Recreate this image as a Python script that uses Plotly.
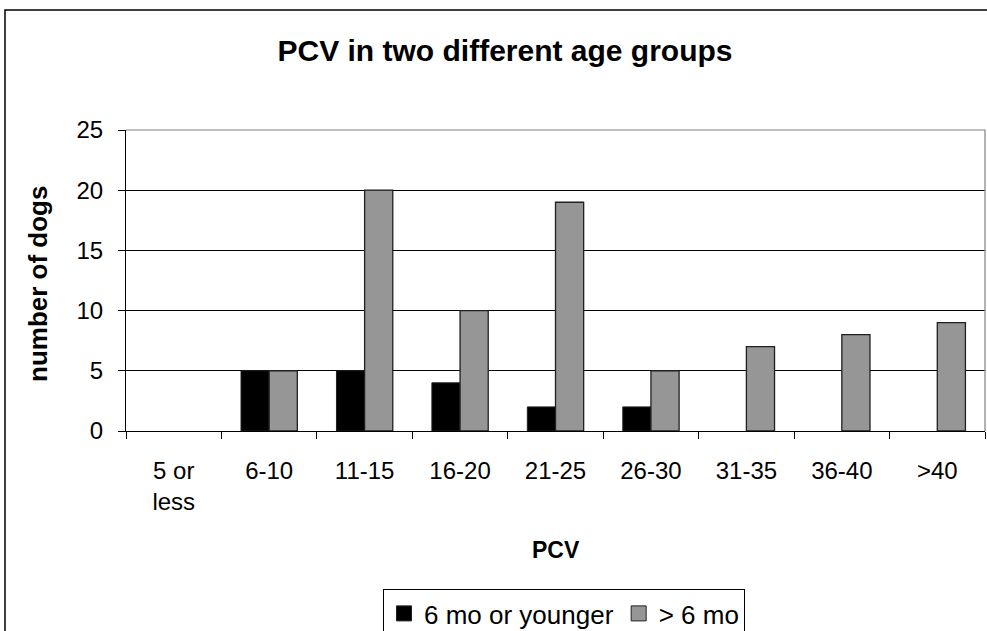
import plotly.graph_objects as go

# ── Data ──────────────────────────────────────────────────────────────────────
PCV_BINS = ["5 or<br>less", "6-10", "11-15", "16-20", "21-25",
            "26-30", "31-35", "36-40", ">40"]
YOUNG = [0, 5, 5, 4, 2, 2, 0, 0, 0]        # 6 mo or younger
OLDER = [0, 5, 20, 10, 19, 5, 7, 8, 9]     # > 6 mo
SERIES = [("6 mo or younger", YOUNG, "#000000", 1.0),
          ("> 6 mo", OLDER, "#969696", 1.3)]

FONT = "Liberation Sans, Arial, sans-serif"

# plot area in pixels: left 126, right 985, top 130, bottom 431
W, H = 987, 631
L, R, T, B = 126, 2, 130, 200
PW, PH = W - L - R, H - T - B


def px(x):
    return (x - L) / PW


def py(y):
    return (H - B - y) / PH


fig = go.Figure()
for name, vals, color, lw in SERIES:
    # no outline on empty bars, so nothing shows at zero
    fig.add_trace(go.Bar(
        x=PCV_BINS, y=vals, name=name, showlegend=False,
        marker=dict(color=color,
                    line=dict(color="#202020",
                              width=[lw if v else 0 for v in vals])),
    ))
for name, vals, color, lw in SERIES:
    # legend-only square swatches (bigger than plotly's bar swatch)
    fig.add_trace(go.Scatter(
        x=[None], y=[None], mode="markers", name=name,
        marker=dict(symbol="square", size=15, color=color,
                    line=dict(color="#202020", width=1)),
    ))

fig.update_layout(
    width=W, height=H,
    paper_bgcolor="white", plot_bgcolor="white",
    margin=dict(l=L, r=R, t=T, b=B, autoexpand=False),
    font=dict(family=FONT, color="black", size=24),
    barmode="group", bargap=0.41, bargroupgap=0,
    title=dict(text="<b>PCV in two different age groups</b>",
               font=dict(size=30), x=px(505), xref="paper", xanchor="center",
               y=1 - 50 / H, yanchor="middle"),
    legend=dict(orientation="h", x=px(383), xanchor="left",
                y=py(589), yanchor="top",
                bordercolor="black", borderwidth=1,
                font=dict(size=26), traceorder="normal"),
    showlegend=True,
)

fig.update_xaxes(
    type="category", showline=True, linecolor="black", linewidth=1,
    ticks="outside", tickson="boundaries", ticklen=7, tickcolor="black",
    tickfont=dict(size=24), showgrid=False, ticklabelstandoff=18,
)
fig.update_yaxes(
    range=[0, 25], dtick=5, showline=True, linecolor="black", linewidth=1,
    ticks="outside", ticklen=7, tickcolor="black",
    tickfont=dict(size=24), showgrid=True, gridcolor="black", gridwidth=1,
    zeroline=False, ticklabelstandoff=10,
)

# axis titles
fig.add_annotation(text="<b>PCV</b>", xref="paper", yref="paper",
                   x=px(556), y=py(550), showarrow=False,
                   xanchor="center", yanchor="middle", font=dict(size=23))
fig.add_annotation(text="<b>number of dogs</b>", xref="paper", yref="paper",
                   x=px(38), y=py(284), showarrow=False, textangle=-90,
                   xanchor="center", yanchor="middle", font=dict(size=26))

# gray plot-area border on top and right
fig.add_shape(type="path", xref="paper", yref="paper",
              path="M 0,1 L 1,1 L 1,0", line=dict(color="#808080", width=1.2))
# chart outer border (runs off the right and bottom edges)
fig.add_shape(type="rect", xref="paper", yref="paper",
              x0=px(5), x1=px(1000), y0=py(650), y1=py(10),
              line=dict(color="black", width=1.5), layer="below")

fig.write_html("out.html", config={"displayModeBar": False},
               post_script="document.body.style.margin='0';"
                           "document.body.style.overflow='hidden';")
